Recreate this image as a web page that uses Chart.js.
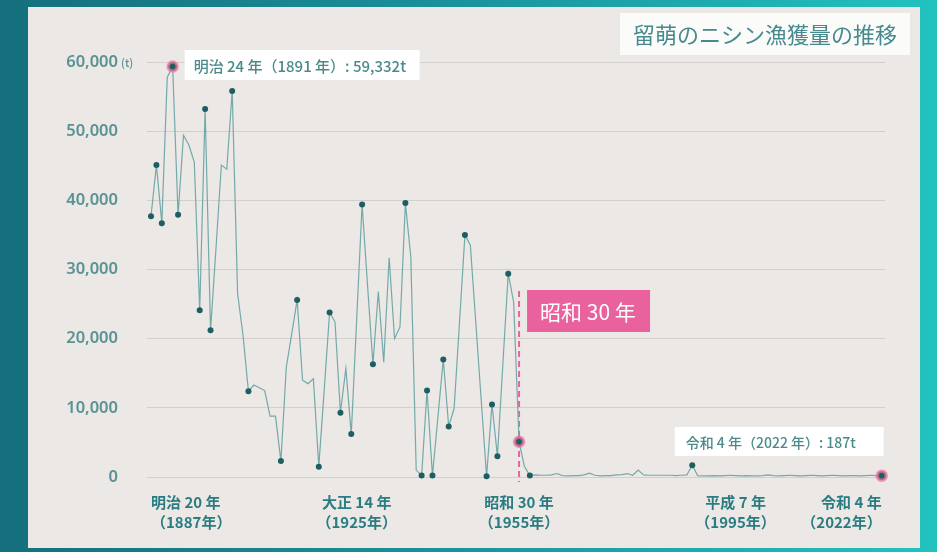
<!DOCTYPE html>
<html lang="ja">
<head>
<meta charset="utf-8">
<title>留萌のニシン漁獲量の推移</title>
<script src="https://cdn.jsdelivr.net/npm/chart.js@4.4.1/dist/chart.umd.min.js"></script>
<style>
  html, body { margin: 0; padding: 0; }
  body {
    width: 937px; height: 552px; overflow: hidden; position: relative;
    background: linear-gradient(90deg, #156f7c 0%, #1a8f99 45%, #22c2bf 100%);
  }
  #panel {
    position: absolute; left: 28px; top: 7px; width: 892px; height: 541px;
    background: #ebe8e5;
  }
  #chart { position: absolute; left: 0; top: 0; }
</style>
</head>
<body>
<div id="panel"></div>
<canvas id="chart" width="937" height="552"></canvas>
<script>
// 留萌のニシン漁獲量 (t), 1887年〜2022年
const firstYear = 1887;
const catchTons = [
    // 1887-1889
    37700, 45100, 36700,
    // 1890年代
    57800, 59332, 37900, 49400, 48000, 45500, 24100, 53200, 21200, 33000,
    // 1900年代
    45100, 44500, 55800, 26500, 20500, 12400, 13300, 12900, 12500, 8800,
    // 1910年代
    8800, 2300, 15900, 20700, 25600, 14000, 13500, 14200, 1500, 12600,
    // 1920年代
    23800, 22400, 9300, 15700, 6200, 22800, 39400, 27800, 16300, 26800,
    // 1930年代
    16600, 31700, 20000, 21700, 39600, 31800, 1000, 200, 12500, 200,
    // 1940年代
    8600, 17000, 7300, 9900, 22400, 35000, 33500, 22400, 11200, 100,
    // 1950年代
    10500, 3000, 16200, 29400, 25300, 5100, 1500, 200, 300, 250,
    // 1960年代
    250, 300, 500, 200, 150, 200, 200, 300, 550, 250,
    // 1970年代
    150, 200, 200, 300, 350, 500, 250, 1000, 300, 250,
    // 1980年代
    250, 250, 250, 250, 200, 250, 300, 1700, 200, 150,
    // 1990年代
    150, 200, 150, 200, 250, 200, 150, 200, 150, 150,
    // 2000年代
    200, 300, 200, 150, 200, 250, 200, 150, 200, 250,
    // 2010年代
    200, 150, 200, 250, 200, 150, 200, 200, 150, 200,
    // 2020年代
    250, 200, 187
];
const years = catchTons.map((_, i) => firstYear + i);

// 点を打つ年と、ピンクの輪で強調する年
const markedYears = [1887, 1888, 1889, 1892, 1896, 1897, 1898, 1902, 1905, 1911,
    1914, 1918, 1920, 1922, 1924, 1926, 1928, 1934, 1937, 1938, 1939, 1941,
    1942, 1945, 1949, 1950, 1951, 1953, 1957, 1987];
const highlightYears = [1891, 1955, 2022];

// 横軸の目盛り
const tickYears = [1887, 1925, 1955, 1995, 2022];
const tickEras = ['明治 20 年', '大正 14 年', '昭和 30 年', '平成 7 年', '令和 4 年'];
const yTicks = [0, 10000, 20000, 30000, 40000, 50000, 60000];

const markerYear = 1955;
const markerText = '昭和 30 年';
const peakText = '明治 24 年（1891 年）: ';
const latestText = '令和 4 年（2022 年）: ';

const FONT = "'Noto Sans CJK JP', 'Noto Sans', sans-serif";
const NUM_FONT = "'Noto Sans', 'Noto Sans CJK JP', sans-serif";
const TEAL_TEXT = '#4a8a8d';
const PINK = '#e9629e';

const valueOf = yr => catchTons[years.indexOf(yr)];
const fmt = v => v.toLocaleString('en-US');

const points = years.map((yr, i) => ({ x: yr, y: catchTons[i] }));

function labelBox(ctx, left, top, w, h, text, opts) {
    ctx.fillStyle = opts.bg;
    ctx.fillRect(left, top, w, h);
    ctx.fillStyle = opts.color;
    ctx.font = opts.font;
    ctx.textAlign = 'left';
    ctx.textBaseline = 'middle';
    ctx.fillText(text, left + opts.pad, top + h / 2 + 1);
}

const annotate = {
    id: 'annotate',
    beforeDatasetsDraw(chart) {
        const { ctx, scales: { x, y } } = chart;
        ctx.save();

        // 単位
        ctx.fillStyle = '#5b9295';
        ctx.font = `500 11px ${FONT}`;
        ctx.textAlign = 'left';
        ctx.textBaseline = 'middle';
        ctx.fillText('(t)', 121, y.getPixelForValue(60000) + 1);

        // 昭和30年の破線
        const mx = x.getPixelForValue(markerYear);
        ctx.strokeStyle = PINK;
        ctx.lineWidth = 2;
        ctx.setLineDash([6, 4]);
        ctx.beginPath();
        ctx.moveTo(mx, 291);
        ctx.lineTo(mx, y.getPixelForValue(0) + 5);
        ctx.stroke();
        ctx.setLineDash([]);

        labelBox(ctx, mx + 8, 290, 123, 42, markerText,
            { bg: PINK, color: '#ffffff', font: `400 21px ${FONT}`, pad: 13 });

        // 最大値と最新値の吹き出し
        const px = x.getPixelForValue(1891);
        labelBox(ctx, px + 12, 50, 235, 30, peakText + fmt(valueOf(1891)) + 't',
            { bg: '#ffffff', color: TEAL_TEXT, font: `500 15px ${FONT}`, pad: 9 });

        const lx = x.getPixelForValue(2022);
        labelBox(ctx, lx - 207, 427, 209, 29, latestText + fmt(valueOf(2022)) + 't',
            { bg: '#ffffff', color: TEAL_TEXT, font: `500 14px ${FONT}`, pad: 11 });

        // タイトル
        labelBox(ctx, 620, 13, 290, 42, '留萌のニシン漁獲量の推移',
            { bg: '#fbfbfa', color: '#468a8e', font: `400 22px ${FONT}`, pad: 13 });

        ctx.restore();
    }
};

new Chart(document.getElementById('chart'), {
    type: 'line',
    data: {
        datasets: [{
            label: '漁獲量',
            data: points,
            borderColor: '#74a9aa',
            borderWidth: 1.2,
            tension: 0,
            pointRadius: ctx => {
                const yr = ctx.raw && ctx.raw.x;
                if (highlightYears.includes(yr)) return 4.5;
                return markedYears.includes(yr) ? 3 : 0;
            },
            pointBackgroundColor: '#1d5e62',
            pointBorderColor: ctx => highlightYears.includes(ctx.raw && ctx.raw.x)
                ? 'rgba(236, 112, 160, 0.7)' : '#1d5e62',
            pointBorderWidth: ctx => highlightYears.includes(ctx.raw && ctx.raw.x) ? 3.5 : 0,
            clip: false
        }]
    },
    options: {
        responsive: false,
        animation: false,
        layout: { padding: { left: 0, top: 62, right: 52, bottom: 0 } },
        plugins: {
            legend: { display: false },
            tooltip: { enabled: false }
        },
        scales: {
            x: {
                type: 'linear',
                min: 1886.26,
                max: 2022.61,
                grid: { display: false, drawTicks: false },
                border: { display: false },
                afterFit: scale => { scale.height = 75; },
                afterBuildTicks: scale => {
                    scale.ticks = tickYears.map(v => ({ value: v }));
                },
                ticks: {
                    autoSkip: false,
                    maxRotation: 0,
                    padding: 15,
                    align: 'inner',
                    color: '#2b7c82',
                    font: { family: FONT, size: 15, weight: '700', lineHeight: 1.35 },
                    callback: v => {
                        const i = tickYears.indexOf(v);
                        return i < 0 ? '' : [tickEras[i], `（${v}年）`];
                    }
                }
            },
            y: {
                min: 0,
                max: 60000,
                grid: { color: '#d2cfcc', lineWidth: 1, drawTicks: false },
                border: { display: false },
                afterFit: scale => { scale.width = 147; },
                afterBuildTicks: scale => {
                    scale.ticks = yTicks.map(v => ({ value: v }));
                },
                ticks: {
                    padding: 29,
                    color: '#5b9295',
                    font: { family: NUM_FONT, size: 16.5, weight: '600' },
                    callback: v => fmt(v)
                }
            }
        }
    },
    plugins: [annotate]
});
</script>
</body>
</html>
